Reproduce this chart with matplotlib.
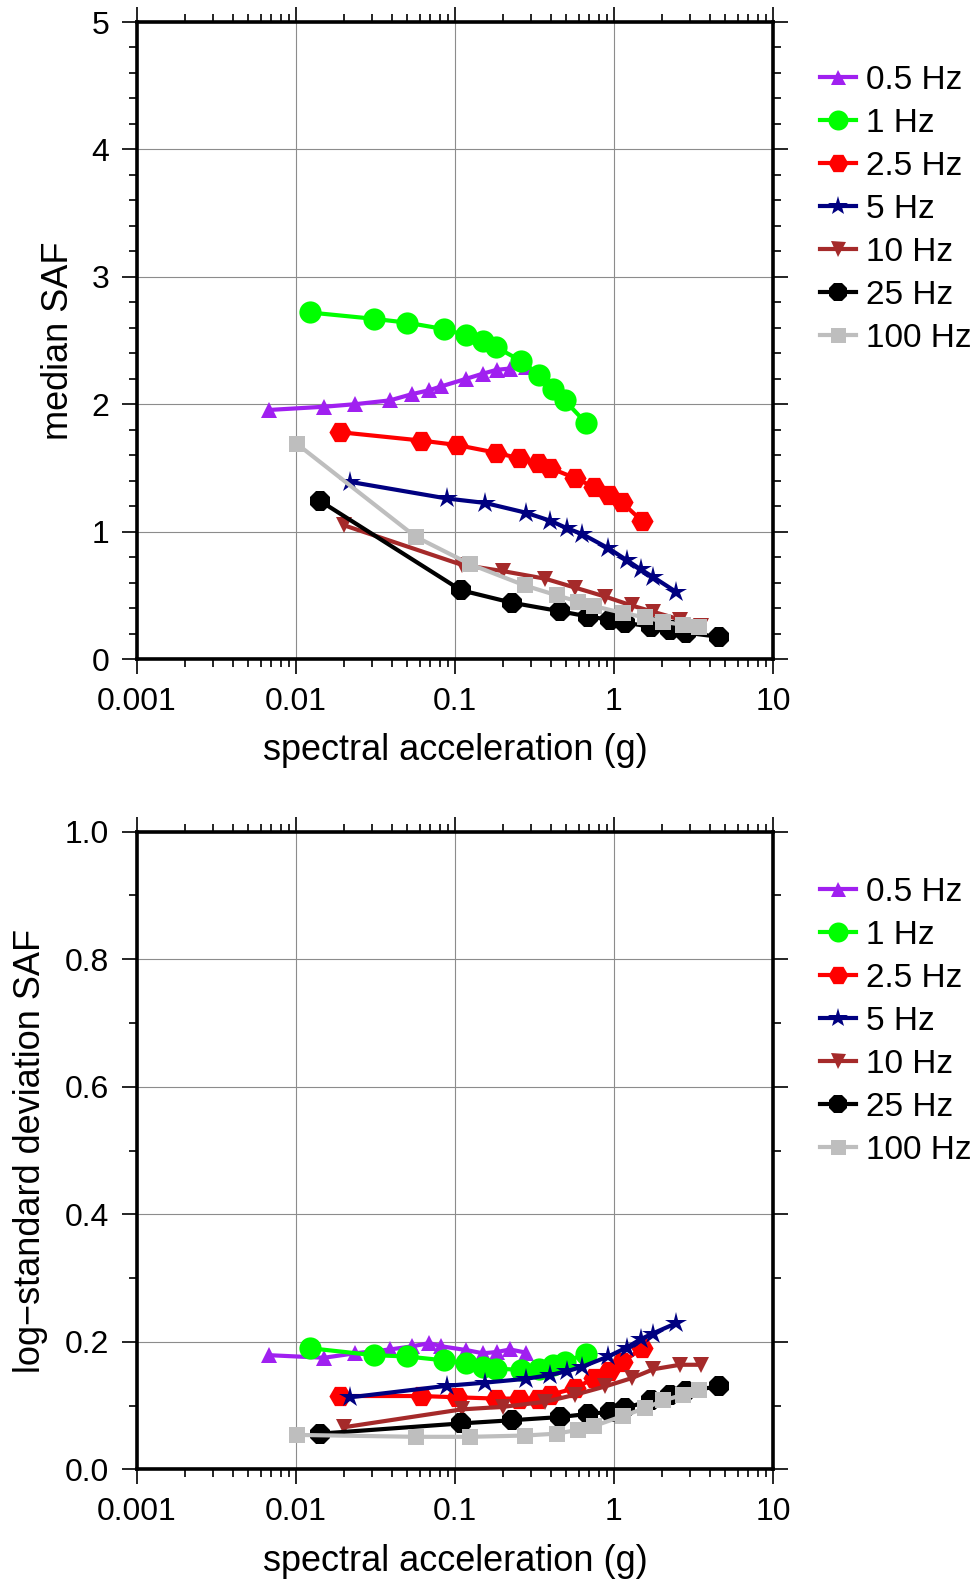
import matplotlib
matplotlib.use("Agg")
import matplotlib.pyplot as plt
from matplotlib.ticker import LogLocator, MultipleLocator, NullFormatter, FixedLocator

plt.rcParams['font.family'] = ['Liberation Sans', 'DejaVu Sans']

# ---------------------------------
# DATA
# ---------------------------------
labels = ["0.5 Hz", "1 Hz", "2.5 Hz", "5 Hz", "10 Hz", "25 Hz", "100 Hz"]
colors = ["#A020F0", "#00FF00", "#FF0000", "#000080", "#A52A2A", "#000000", "#BEBEBE"]
markers = ["^", "o", "H", "*", "v", "8", "s"]
msizes = [12, 16, 16, 16, 12, 15, 12]

sa_05 = [0.0068, 0.015, 0.0235, 0.039, 0.054, 0.069, 0.082, 0.118, 0.15, 0.183, 0.222, 0.28]
sa_1 = [0.0122, 0.031, 0.05, 0.085, 0.118, 0.15, 0.18, 0.26, 0.34, 0.415, 0.49, 0.67]
sa_25 = [0.019, 0.061, 0.1025, 0.18, 0.254, 0.334, 0.396, 0.568, 0.748, 0.935, 1.12, 1.51]
sa_5 = [0.022, 0.0887, 0.1545, 0.28, 0.396, 0.508, 0.632, 0.92, 1.2, 1.47, 1.75, 2.45]
sa_10 = [0.020, 0.11, 0.20, 0.37, 0.57, 0.88, 1.29, 1.77, 2.6, 3.5]
sa_25hz = [0.0142, 0.109, 0.2275, 0.457, 0.69, 0.94, 1.17, 1.71, 2.25, 2.85, 4.6]
sa_100 = [0.0101, 0.0565, 0.124, 0.275, 0.436, 0.596, 0.75, 1.145, 1.57, 2.04, 2.73, 3.4]

med_05 = [1.955, 1.98, 2.0, 2.03, 2.08, 2.11, 2.14, 2.20, 2.24, 2.27, 2.28, 2.29]
med_1 = [2.72, 2.67, 2.64, 2.59, 2.54, 2.50, 2.45, 2.34, 2.23, 2.12, 2.03, 1.85]
med_25 = [1.78, 1.715, 1.68, 1.62, 1.575, 1.535, 1.50, 1.42, 1.35, 1.29, 1.23, 1.08]
med_5 = [1.39, 1.26, 1.225, 1.148, 1.086, 1.026, 0.98, 0.87, 0.777, 0.704, 0.646, 0.528]
med_10 = [1.05, 0.74, 0.69, 0.63, 0.56, 0.49, 0.42, 0.37, 0.31, 0.26]
med_25hz = [1.24, 0.54, 0.442, 0.375, 0.333, 0.308, 0.285, 0.254, 0.23, 0.206, 0.174]
med_100 = [1.69, 0.96, 0.745, 0.577, 0.50, 0.45, 0.415, 0.36, 0.327, 0.293, 0.267, 0.255]

sd_05 = [0.179, 0.175, 0.182, 0.188, 0.193, 0.198, 0.193, 0.187, 0.182, 0.184, 0.188, 0.183]
sd_1 = [0.19, 0.179, 0.177, 0.171, 0.166, 0.161, 0.158, 0.156, 0.158, 0.163, 0.169, 0.181]
sd_25 = [0.115, 0.115, 0.113, 0.111, 0.111, 0.111, 0.117, 0.127, 0.143, 0.155, 0.168, 0.19]
sd_5 = [0.113, 0.131, 0.136, 0.142, 0.148, 0.154, 0.161, 0.177, 0.191, 0.204, 0.213, 0.229]
sd_10 = [0.066, 0.094, 0.098, 0.106, 0.117, 0.13, 0.143, 0.157, 0.164, 0.164]
sd_25hz = [0.056, 0.072, 0.077, 0.082, 0.087, 0.09, 0.096, 0.108, 0.116, 0.123, 0.13]
sd_100 = [0.054, 0.051, 0.051, 0.053, 0.056, 0.062, 0.068, 0.084, 0.096, 0.108, 0.117, 0.124]

sa_all = [sa_05, sa_1, sa_25, sa_5, sa_10, sa_25hz, sa_100]
med_all = [med_05, med_1, med_25, med_5, med_10, med_25hz, med_100]
sd_all = [sd_05, sd_1, sd_25, sd_5, sd_10, sd_25hz, sd_100]


# ---------------------------------
# FUNCTION: ONE PANEL
# ---------------------------------
def draw_panel(ax, ys, ylim, ymajor, yminor, ylabel, yfmt, leg_y, ylpad):
    for xs, yv, c, m, ms, lab in zip(sa_all, ys, colors, markers, msizes, labels):
        ax.plot(xs, yv, color=c, marker=m, markersize=ms, linewidth=3.0,
                markeredgewidth=0, label=lab)

    ax.set_xscale("log")
    ax.set_xlim(0.001, 10)
    ax.set_ylim(*ylim)
    ax.xaxis.set_major_locator(FixedLocator([0.001, 0.01, 0.1, 1, 10]))
    ax.set_xticklabels(["0.001", "0.01", "0.1", "1", "10"])
    ax.xaxis.set_minor_locator(LogLocator(base=10, subs=range(2, 10)))
    ax.xaxis.set_minor_formatter(NullFormatter())
    ax.yaxis.set_major_locator(MultipleLocator(ymajor))
    ax.yaxis.set_minor_locator(MultipleLocator(yminor))
    ax.yaxis.set_major_formatter(plt.FormatStrFormatter(yfmt))

    ax.grid(True, which="major", color="#8c8c8c", linewidth=0.8)
    ax.set_axisbelow(True)
    for s in ax.spines.values():
        s.set_linewidth(2.6)
    ax.tick_params(which="both", direction="out", top=True, right=True,
                   labelsize=23, width=1.2, pad=9)
    ax.tick_params(which="major", length=11)
    ax.tick_params(which="minor", length=6)

    ax.set_xlabel("spectral acceleration (g)", fontsize=26, labelpad=12)
    ax.set_ylabel(ylabel, fontsize=26, labelpad=ylpad)

    ax.legend(loc="upper left", bbox_to_anchor=(0.839, leg_y),
              bbox_transform=fig.transFigure, frameon=False, fontsize=24,
              handlelength=1.1, handletextpad=0.3, labelspacing=0.36,
              borderpad=0, borderaxespad=0, markerscale=0.9)


fig = plt.figure(figsize=(9.77, 15.83), dpi=100)
ax1 = fig.add_axes([0.1402, 0.5837, 0.651, 0.4024])
ax2 = fig.add_axes([0.1402, 0.0718, 0.651, 0.4028])

draw_panel(ax1, med_all, (0, 5), 1, 0.2, "median SAF", "%d", 0.959, 11)
draw_panel(ax2, sd_all, (0, 1), 0.2, 0.1, "log\u2212standard deviation SAF", "%.1f", 0.446, 12)

fig.savefig("out.png", dpi=100)
